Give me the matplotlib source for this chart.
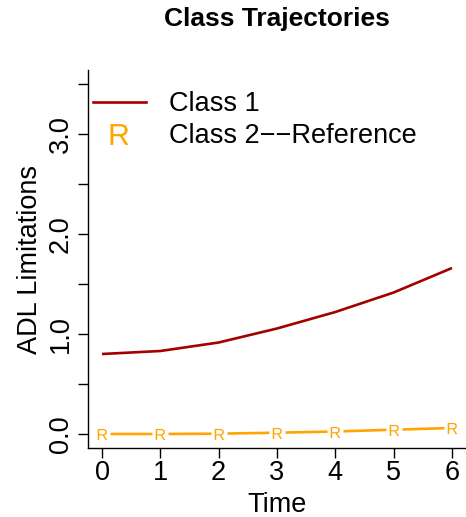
import matplotlib
matplotlib.use("Agg")
import matplotlib.pyplot as plt
from matplotlib.lines import Line2D

plt.rcParams['font.family'] = ['Liberation Sans', 'DejaVu Sans']
plt.rcParams['mathtext.fontset'] = 'custom'
plt.rcParams['mathtext.rm'] = 'Liberation Sans'
plt.rcParams['mathtext.sf'] = 'Liberation Sans'

time = [0, 1, 2, 3, 4, 5, 6]
class1 = [0.80, 0.83, 0.915, 1.055, 1.22, 1.415, 1.66]
class2 = [0.00, 0.00, 0.003, 0.013, 0.025, 0.043, 0.06]
labels = ["Class 1", "Class 2\u2212\u2212Reference"]
yticks = [0, 0.5, 1.0, 1.5, 2.0, 2.5, 3.0, 3.5]
ytick_labels = ["0.0", "", "1.0", "", "2.0", "", "3.0", ""]

red = "#A30000"
orange = "#FFA500"
FS = 19.5

fig = plt.figure(figsize=(4.66, 5.17), dpi=100)
ax = fig.add_axes([88/466, 1-448/517, 378/466, 378/517])

ax.plot(time, class1, color=red, lw=1.9, solid_capstyle='butt')
ax.plot(time, class2, color=orange, lw=1.9, zorder=2)
ax.plot(time, class2, ls='none', marker='s', ms=11, mfc='white', mec='none', zorder=3)
ax.plot(time, class2, ls='none', marker=r'$\mathrm{R}$', ms=8, color=orange, mew=0, zorder=4)

ax.set_xlim(-0.24, 6.24)
ax.set_ylim(-0.14, 3.64)
ax.set_xticks(time)
ax.set_xticklabels([str(t) for t in time])
ax.set_yticks(yticks)
ax.set_yticklabels(ytick_labels)

for s in ['top', 'right']:
    ax.spines[s].set_visible(False)
for s in ['left', 'bottom']:
    ax.spines[s].set_linewidth(1.0)
    ax.spines[s].set_color('black')

ax.tick_params(axis='both', length=7, width=1.0, labelsize=FS, colors='black')
ax.tick_params(axis='x', pad=2)
ax.tick_params(axis='y', pad=3)
for lab in ax.get_yticklabels():
    lab.set_rotation(90)
    lab.set_va('center')

ax.set_xlabel("Time", fontsize=FS, labelpad=4)
ax.set_ylabel("ADL Limitations", fontsize=FS, labelpad=4)

fig.text(277/466, 1-19/517, "Class Trajectories", ha='center', va='center',
         fontsize=19, fontweight='bold')

handles = [Line2D([], [], color=red, lw=1.9),
           Line2D([], [], ls='none', marker=r'$\mathrm{R}$', ms=15, color=orange, mew=0)]
ax.legend(handles, labels, loc='upper left', bbox_to_anchor=(-0.016, 0.972),
          frameon=False, fontsize=FS, handlelength=1.95, handletextpad=0.85,
          labelspacing=0.22, borderaxespad=0.0)

fig.savefig("out.png", dpi=100)
